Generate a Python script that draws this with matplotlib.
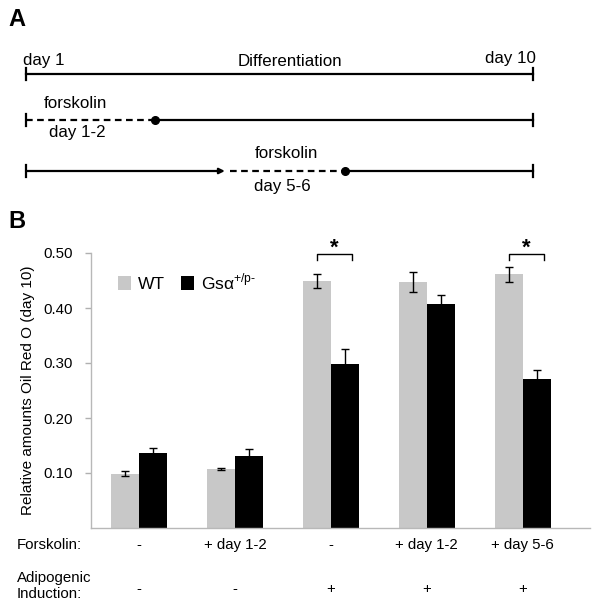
import matplotlib
matplotlib.use("Agg")
import matplotlib.pyplot as plt
from matplotlib.patches import Patch
from matplotlib.transforms import blended_transform_factory

plt.rcParams['font.family'] = ['Liberation Sans', 'DejaVu Sans']
plt.rcParams['mathtext.fontset'] = 'custom'
plt.rcParams['mathtext.rm'] = 'Liberation Sans'

# ---------------- data ----------------
forskolin_labels = ["-", "+ day 1-2", "-", "+ day 1-2", "+ day 5-6"]
induction_labels = ["-", "-", "+", "+", "+"]
wt_values = [0.099, 0.107, 0.449, 0.448, 0.461]
wt_err = [0.004, 0.002, 0.012, 0.018, 0.014]
gs_values = [0.136, 0.131, 0.298, 0.408, 0.271]
gs_err = [0.010, 0.012, 0.027, 0.015, 0.016]
sig_groups = [2, 4]
yticks = [0.10, 0.20, 0.30, 0.40, 0.50]

# timeline schematic (in days)
day_start, day_end = 1, 10
forsk1 = (1.0, 3.29)
forsk2 = (4.62, 6.67)
arrow_end = 4.53

fig = plt.figure(figsize=(6.01, 6.07), dpi=100)
W, H = 601, 607

# ---------------- panel A ----------------
px_per_day = (533 - 26) / 9.0
axA = fig.add_axes([26 / W, 1 - 230 / H, (533 - 26) / W, 230 / H])
axA.set_xlim(day_start, day_end)
axA.set_ylim(230, 0)
axA.axis('off')
rows = [74, 120, 171]
lw = 1.6
tick_h = 6
for r in rows:
    for d in (day_start, day_end):
        axA.plot([d, d], [r - tick_h, r + tick_h], color='black', lw=lw, clip_on=False)
# row 1
axA.plot([day_start, day_end], [rows[0]] * 2, color='black', lw=lw, clip_on=False)
# row 2
axA.plot(forsk1, [rows[1]] * 2, color='black', lw=lw, ls=(0, (3, 2)), clip_on=False)
axA.plot([forsk1[1], day_end], [rows[1]] * 2, color='black', lw=lw, clip_on=False)
axA.plot([forsk1[1]], [rows[1]], 'o', color='black', ms=5.5, clip_on=False)
# row 3
axA.annotate('', xy=(arrow_end, rows[2]), xytext=(day_start, rows[2]),
             arrowprops=dict(arrowstyle='-|>', lw=lw, color='black',
                             shrinkA=0, shrinkB=0, mutation_scale=8))
axA.plot(forsk2, [rows[2]] * 2, color='black', lw=lw, ls=(0, (3, 2)), clip_on=False)
axA.plot([forsk2[1], day_end], [rows[2]] * 2, color='black', lw=lw, clip_on=False)
axA.plot([forsk2[1]], [rows[2]], 'o', color='black', ms=5.5, clip_on=False)

fsA = 12.2
axA.text(day_start - 3 / px_per_day, 60, "day 1", ha='left', va='center', fontsize=fsA)
axA.text(day_end + 3 / px_per_day, 58, "day 10", ha='right', va='center', fontsize=fsA)
axA.text(5.69, 61, "Differentiation", ha='center', va='center', fontsize=fsA)
axA.text(1.87, 104, "forskolin", ha='center', va='center', fontsize=fsA)
axA.text(1.91, 133, "day 1-2", ha='center', va='center', fontsize=fsA)
axA.text(5.62, 154, "forskolin", ha='center', va='center', fontsize=fsA)
axA.text(5.55, 186, "day 5-6", ha='center', va='center', fontsize=fsA)

fig.text(8 / W, 1 - 19 / H, "A", fontsize=17, fontweight='bold', ha='left', va='center')
fig.text(8 / W, 1 - 222 / H, "B", fontsize=17, fontweight='bold', ha='left', va='center')

# ---------------- panel B ----------------
ax = fig.add_axes([91 / W, 1 - 528 / H, (590 - 91) / W, (528 - 253) / H])
n = len(wt_values)
x = list(range(n))
bw = 0.29
xw = [i - bw / 2 for i in x]
xg = [i + bw / 2 for i in x]
ax.bar(xw, wt_values, width=bw, color='#c8c8c8', zorder=2)
ax.bar(xg, gs_values, width=bw, color='black', zorder=2)
ax.errorbar(xw, wt_values, yerr=wt_err, fmt='none', ecolor='black', elinewidth=1,
            capsize=3, capthick=1, zorder=3)
ax.errorbar(xg, gs_values, yerr=gs_err, fmt='none', ecolor='black', elinewidth=1,
            capsize=3, capthick=1, zorder=3)

ax.set_xlim(-0.5, 4.70)
ax.set_ylim(0, 0.5)
ax.set_yticks(yticks)
ax.set_yticklabels([f"{v:.2f}" for v in yticks], fontsize=10.8)
ax.tick_params(axis='y', direction='out', length=4, width=1, color='#b0b0b0', pad=9)
ax.set_xticks([])
for s in ('top', 'right'):
    ax.spines[s].set_visible(False)
for s in ('left', 'bottom'):
    ax.spines[s].set_color('#b8b8b8')
    ax.spines[s].set_linewidth(1)
ax.set_ylabel("Relative amounts Oil Red O (day 10)", fontsize=11, labelpad=6)

# significance brackets
for g in sig_groups:
    x1, x2 = xw[g], xg[g] + 0.08
    yb, yt = 0.487, 0.498
    ax.plot([x1, x1, x2, x2], [yb, yt, yt, yb], color='black', lw=1, clip_on=False)
    ax.text((x1 + x2) / 2, 0.508, "*", ha='center', va='center', fontsize=16,
            fontweight='bold', clip_on=False)

# category rows
trans = blended_transform_factory(ax.transData, ax.transAxes)
for i in x:
    ax.text(i, -(545 - 528) / 275, forskolin_labels[i], transform=trans,
            ha='center', va='center', fontsize=10.8)
    ax.text(i, -(589 - 528) / 275, induction_labels[i], transform=trans,
            ha='center', va='center', fontsize=10.8)
fig.text(17 / W, 1 - 545 / H, "Forskolin:", ha='left', va='center', fontsize=10.8)
fig.text(17 / W, 1 - 586 / H, "Adipogenic\nInduction:", ha='left', va='center',
         fontsize=10.8, linespacing=1.1)

# legend
handles = [Patch(facecolor='#c8c8c8', edgecolor='none', label='WT'),
           Patch(facecolor='black', edgecolor='none',
                 label='Gs\u03b1$^{\\mathrm{+/p}\\text{-}}$')]
ax.legend(handles=handles, ncol=2, frameon=False, fontsize=12.5, loc='center left',
          bbox_to_anchor=((118 - 91) / 499, (528 - 282) / 275), borderpad=0,
          borderaxespad=0, handlelength=0.75, handleheight=0.85, handletextpad=0.4,
          columnspacing=0.9)

fig.savefig("out.png", dpi=100)
